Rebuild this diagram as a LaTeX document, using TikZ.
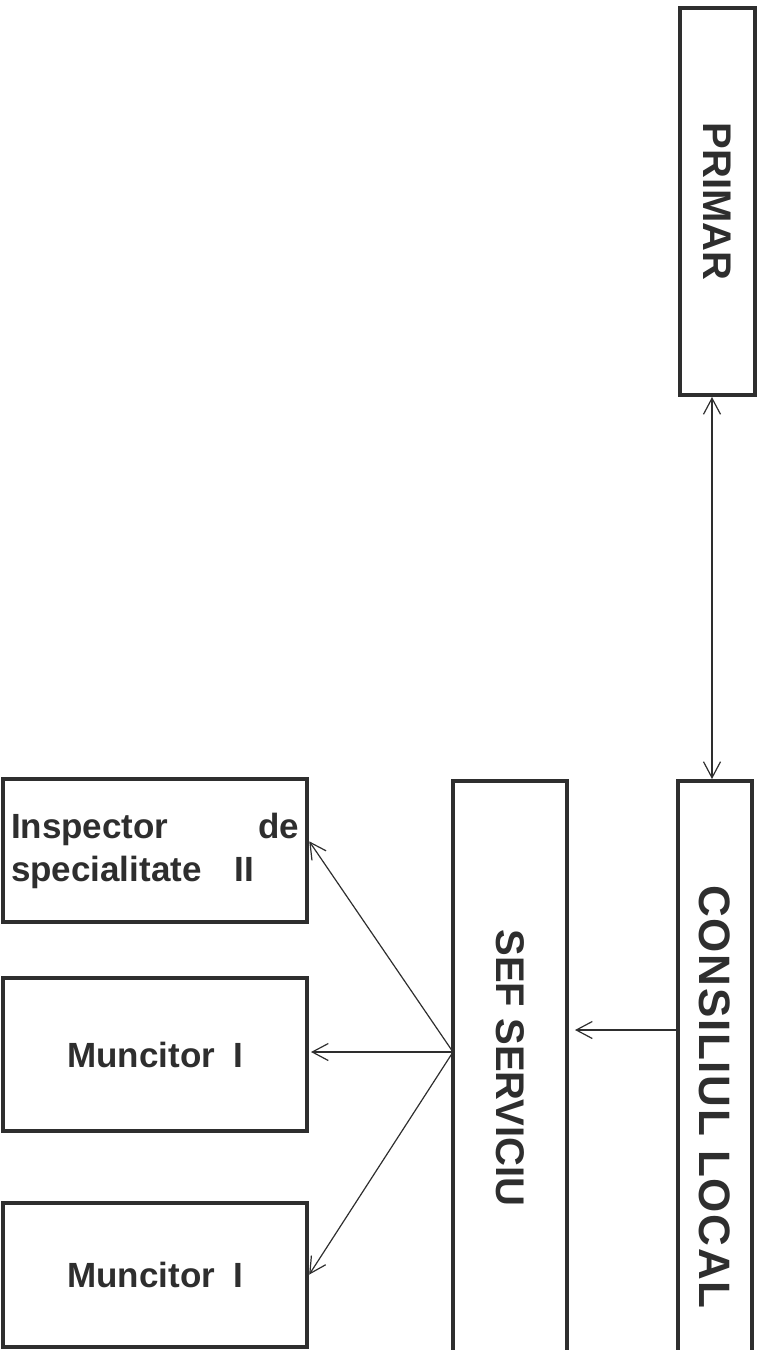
\documentclass[tikz,border=0pt]{standalone}
\usepackage{fontspec}
\setmainfont{Liberation Sans}
\usepackage{graphicx}
\usepackage{xcolor}
\usepackage{tikz}
\usetikzlibrary{arrows.meta, positioning}

\definecolor{ink}{HTML}{2E2E2E}

\begin{document}
\begin{tikzpicture}[
          x=1pt, y=-1pt,
          >={Straight Barb[length=16pt,width=17pt]},
          box/.style={draw=ink, line width=4pt, text=ink, font=\bfseries,
            inner sep=0pt, outer sep=0pt, anchor=north west},
          arr/.style={draw=ink, line width=1.2pt},
          hname/.style={font=\bfseries\fontsize{35}{43}\selectfont}
        ]
          \useasboundingbox (0,0) rectangle (763,1350);
          \node[box, minimum width=75pt, minimum height=387pt] (primar) at (680,8)
            {\rotatebox{-90}{\bfseries\fontsize{40}{48}\selectfont PRIMAR}};
          \node[box, minimum width=74pt, minimum height=632pt] (consiliu) at (678,781)
            {\rotatebox{-90}{\bfseries\fontsize{44}{52}\selectfont
              \addfontfeature{LetterSpace=4}CONSILIUL LOCAL}};
          \node[box, minimum width=114pt, minimum height=574pt] (sef) at (453,781)
            {\rotatebox{-90}{\bfseries\fontsize{40}{48}\selectfont SEF SERVICIU}};
          \node[box, hname, minimum width=304pt, minimum height=143pt,
            text width=288pt, align=left] (insp) at (3,779)
            {Inspector\hfill de\\specialitate\hspace{33pt}II};
          \node[box, hname, minimum width=304pt, minimum height=153pt] (munc1) at (3,978)
            {Muncitor\hspace{18pt}I};
          \node[box, hname, minimum width=304pt, minimum height=144pt] (munc2) at (3,1203)
            {Muncitor\hspace{18pt}I};

          \draw[arr, <->, shorten <=2pt, shorten >=2pt]
            (primar.south -| 712,0) -- (consiliu.north -| 712,0);
          \draw[arr, ->, shorten >=8pt] (consiliu.west |- 0,1030) -- (sef.east |- 0,1030);
          \coordinate (hub) at (sef.west |- 0,1052);
          \draw[arr, ->, shorten >=4pt] (hub) -- (insp.east |- 0,838);
          \draw[arr, ->, shorten >=4pt] (hub) -- (munc1.east |- 0,1052);
          \draw[arr, ->, shorten >=4pt] (hub) -- (munc2.east |- 0,1278);
        \end{tikzpicture}
\end{document}
